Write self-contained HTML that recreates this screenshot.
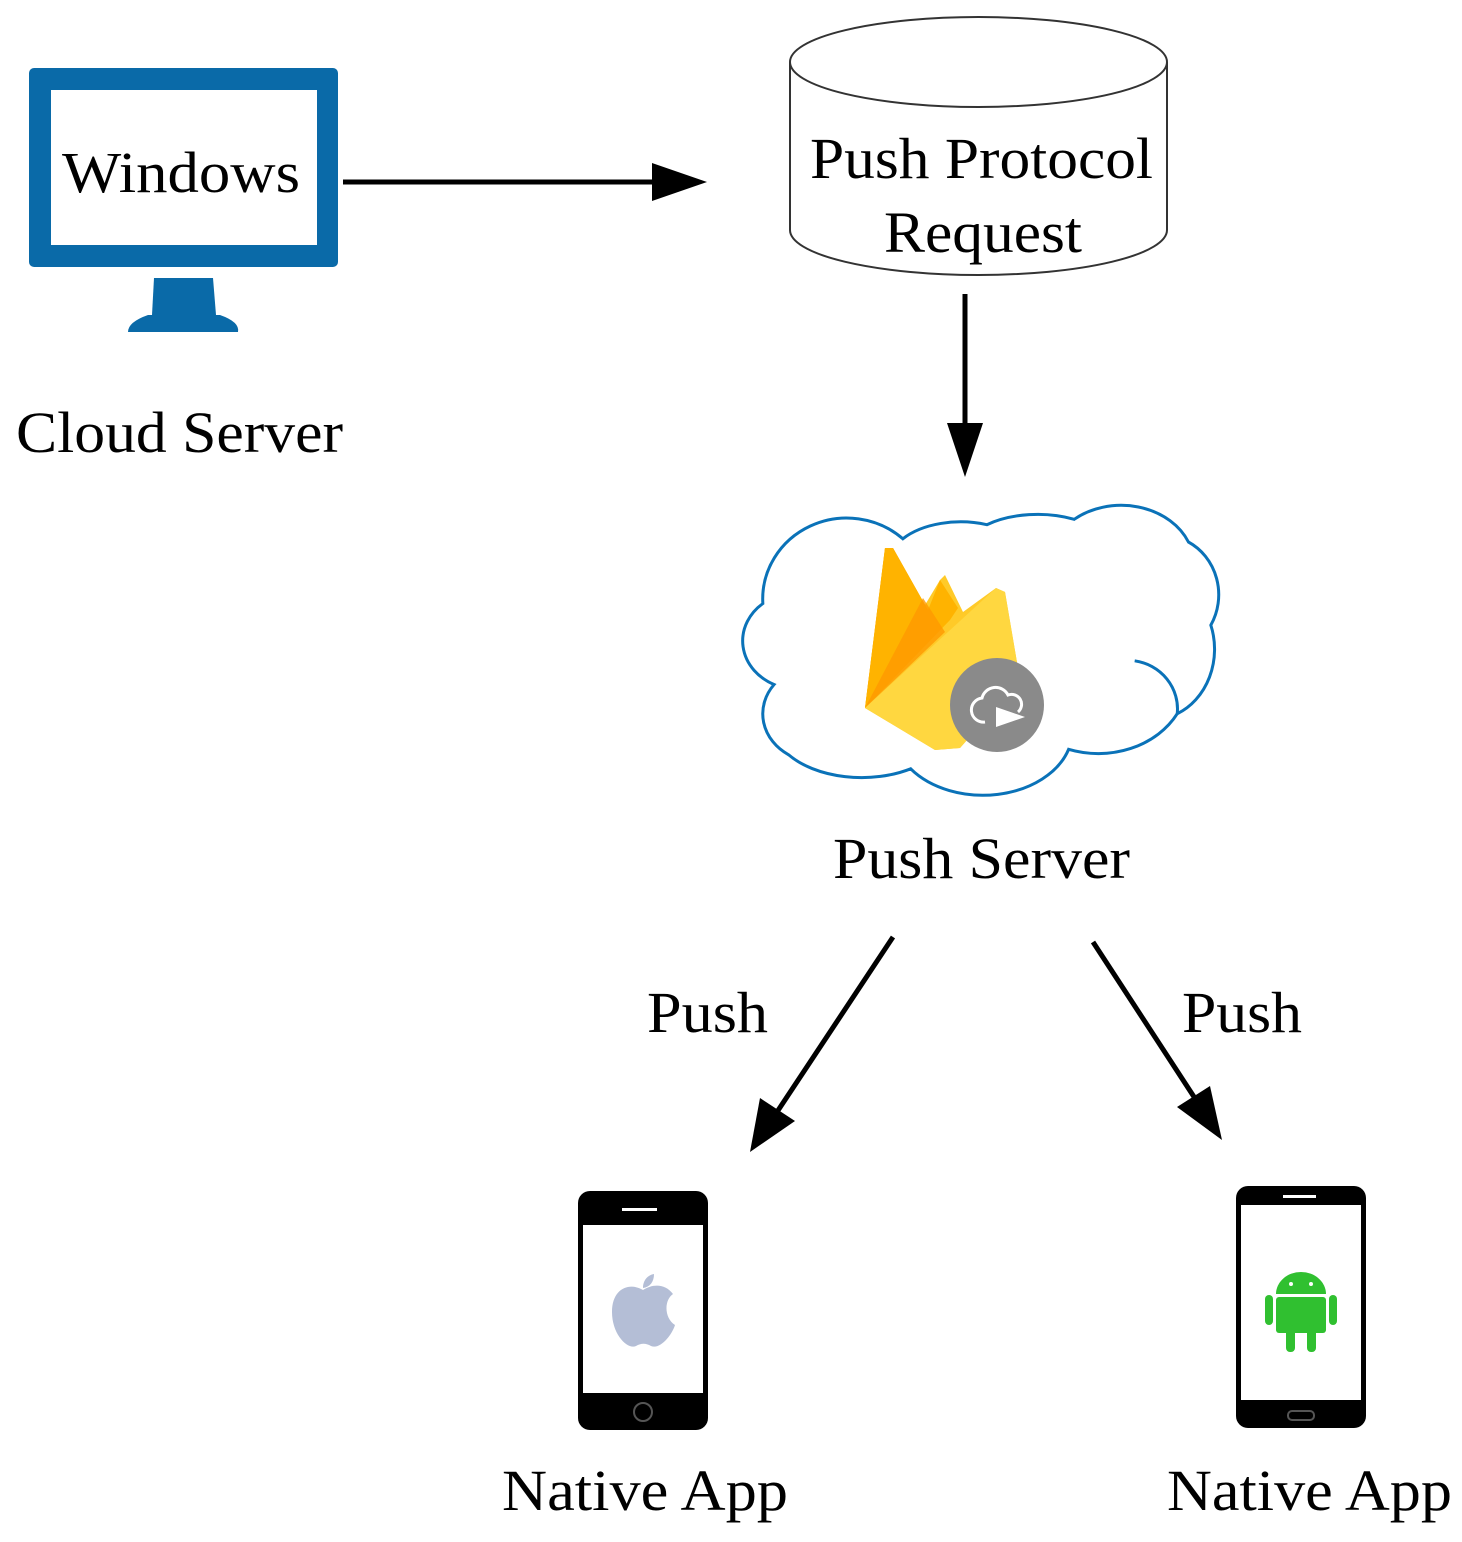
<!DOCTYPE html>
<html><head><meta charset="utf-8"><style>html,body{margin:0;padding:0;background:#fff}svg{display:block}</style></head><body>
<svg width="1462" height="1542" viewBox="0 0 1462 1542" xmlns="http://www.w3.org/2000/svg" font-family="Liberation Serif, serif" font-size="58" fill="#000">
<!-- monitor -->
<rect x="29" y="68" width="309" height="199" rx="5" fill="#0a6aa8"/>
<rect x="51" y="90" width="266" height="155" fill="#fff"/>
<polygon points="154,278 213,278 216,315 152,315" fill="#0a6aa8"/>
<path d="M148,315 H220 Q240,322 238,332 H128 Q128,322 148,315 Z" fill="#0a6aa8"/>
<text x="62" y="192" textLength="238" lengthAdjust="spacingAndGlyphs">Windows</text>
<text x="16" y="452" textLength="327" lengthAdjust="spacingAndGlyphs">Cloud Server</text>
<!-- arrow 1 -->
<line x1="343" y1="182" x2="660" y2="182" stroke="#000" stroke-width="5"/>
<polygon points="652,163 707,182 652,201" fill="#000"/>
<!-- cylinder -->
<path d="M790,62 V230 A188.5,45 0 0 0 1167,230 V62" fill="#fff" stroke="#333" stroke-width="2"/>
<ellipse cx="978.5" cy="62" rx="188.5" ry="45" fill="#fff" stroke="#333" stroke-width="2"/>
<text x="810" y="178" textLength="343" lengthAdjust="spacingAndGlyphs">Push Protocol</text>
<text x="884" y="252" textLength="198" lengthAdjust="spacingAndGlyphs">Request</text>
<!-- arrow 2 -->
<line x1="965" y1="294" x2="965" y2="430" stroke="#000" stroke-width="5"/>
<polygon points="947,423 983,423 965,477" fill="#000"/>
<!-- cloud -->
<g transform="translate(979,650) scale(1.12,1.08) translate(-978,-648)">
<path vector-effect="non-scaling-stroke" d="M795,680 A50,45 0 0 1 785,605 A75,75 0 0 1 910,545 A65,40 0 0 1 985,532 A70,40 0 0 1 1063,527 A65,55 0 0 1 1165,548 A50,55 0 0 1 1185,625 A55,65 0 0 1 1155,707 A80,70 0 0 1 1058,740 A80,60 0 0 1 917,758 A80,50 0 0 1 808,745 A50,45 0 0 1 795,680 Z" fill="#fff" stroke="#0a72b8" stroke-width="3"/>
<path vector-effect="non-scaling-stroke" d="M1117,658 A45,45 0 0 1 1155,707" fill="none" stroke="#0a72b8" stroke-width="3"/>
</g>
<!-- firebase -->
<polygon points="865,708 885,548 893,548 925,605 940,580 945,575 963,612 996,588 1005,592 1020,680 960,748 935,750" fill="#ffca28"/>
<polygon points="865,708 885,548 893,548 925,605" fill="#ffa000"/>
<polygon points="865,708 885,548 893,548 928,610 940,580 958,608 950,620" fill="#ffb300"/>
<polygon points="865,708 923,598 945,632" fill="#ff9800" opacity="0.8"/>
<polygon points="865,708 996,588 1005,592 1020,680 960,748 935,750" fill="#ffd740"/>
<circle cx="997" cy="705" r="47" fill="#8a8a8a"/>
<path d="M985,722 A12,12 0 0 1 982,698 A14,14 0 0 1 1008,695 A10,10 0 0 1 1018,712" fill="none" stroke="#fff" stroke-width="3"/>
<polygon points="996,707 1025,717 996,727" fill="#fff"/>
<text x="833" y="878" textLength="297" lengthAdjust="spacingAndGlyphs">Push Server</text>
<!-- diagonal arrows -->
<line x1="893" y1="937" x2="775" y2="1115" stroke="#000" stroke-width="5"/>
<polygon points="750,1152 760,1098 795,1121" fill="#000"/>
<line x1="1093" y1="942" x2="1198" y2="1103" stroke="#000" stroke-width="5"/>
<polygon points="1222,1140 1177,1107 1210,1086" fill="#000"/>
<text x="647" y="1032" textLength="121" lengthAdjust="spacingAndGlyphs">Push</text>
<text x="1182" y="1032" textLength="120" lengthAdjust="spacingAndGlyphs">Push</text>
<!-- iphone -->
<rect x="578" y="1191" width="130" height="239" rx="12" fill="#000"/>
<rect x="583" y="1225" width="120" height="168" fill="#fff"/>
<rect x="622" y="1208" width="35" height="3" fill="#fff"/>
<circle cx="643" cy="1412" r="9" fill="none" stroke="#555" stroke-width="2"/>
<path d="M643,1290 C630,1282 612,1288 612,1312 C612,1335 628,1350 636,1346 C641,1343 646,1343 651,1346 C660,1350 672,1335 675,1325 C664,1318 664,1300 673,1294 C665,1283 652,1284 643,1290 Z M643,1288 C643,1280 648,1275 654,1274 C654,1282 650,1287 643,1288 Z" fill="#b4bed6"/>
<!-- android -->
<rect x="1236" y="1186" width="130" height="242" rx="12" fill="#000"/>
<rect x="1241" y="1205" width="120" height="195" fill="#fff"/>
<rect x="1283" y="1195" width="33" height="3" fill="#fff"/>
<rect x="1288" y="1411" width="26" height="9" rx="4" fill="none" stroke="#555" stroke-width="2"/>
<g fill="#30c030">
<path d="M1276,1294 A25,22 0 0 1 1326,1294 Z"/>
<rect x="1276" y="1297" width="50" height="36" rx="3"/>
<rect x="1265" y="1295" width="8" height="30" rx="4"/>
<rect x="1329" y="1295" width="8" height="30" rx="4"/>
<rect x="1286" y="1325" width="9" height="27" rx="4"/>
<rect x="1307" y="1325" width="9" height="27" rx="4"/>
</g>
<circle cx="1291" cy="1284" r="2" fill="#fff"/><circle cx="1311" cy="1284" r="2" fill="#fff"/>
<text x="502" y="1510" textLength="286" lengthAdjust="spacingAndGlyphs">Native App</text>
<text x="1167" y="1510" textLength="285" lengthAdjust="spacingAndGlyphs">Native App</text>
</svg>
</body></html>
